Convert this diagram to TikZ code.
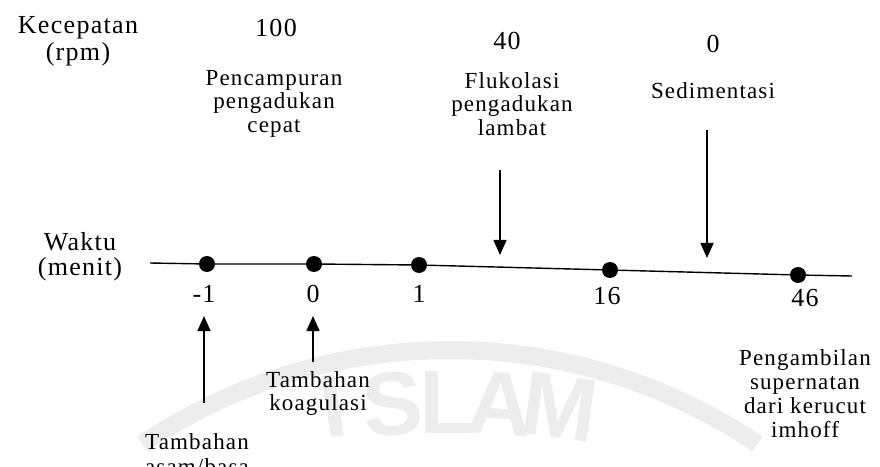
\documentclass[tikz,border=0pt]{standalone}
\usepackage{fontspec}
\setmainfont{Liberation Serif}[LetterSpace=5]
\newfontfamily\wmfont{Liberation Sans}
\usetikzlibrary{arrows.meta}
\begin{document}
\begin{tikzpicture}[x=1pt,y=1pt,
  bigtxt/.style={font=\fontsize{26}{28}\selectfont, inner sep=0pt, anchor=base},
  sidetxt/.style={font=\fontsize{26}{27}\selectfont, inner sep=0pt, align=center, anchor=north},
  smalltxt/.style={font=\fontsize{23}{23.5}\selectfont, inner sep=0pt, align=center, anchor=north},
  tick/.style={circle, fill=black, inner sep=0pt, minimum size=16pt},
  pointer/.style={line width=1.5pt, -{Triangle[width=13pt,length=15pt]}},
  axisline/.style={line width=1.4pt},
  wm/.style={gray!14},
  wmletter/.style={wm, font=\wmfont\bfseries\fontsize{90}{90}\selectfont, inner sep=0pt}]
\useasboundingbox (0,0) rectangle (880,466);
\clip (0,0) rectangle (880,466);

% faint watermark in the background
\draw[wm, line width=18pt] (450,-434) ++(124:550) arc (124:56:550);
\node[wmletter, rotate=9]  (wmI) at (333,60) {I};
\node[wmletter, rotate=5]  (wmS) at (393,62) {S};
\node[wmletter]            (wmL) at (447,63) {L};
\node[wmletter, rotate=-4] (wmA) at (500,62) {A};
\node[wmletter, rotate=-8] (wmM) at (560,59) {M};

% row labels
\node[sidetxt] (kec) at (78,450) {Kecepatan\\(rpm)};
\node[sidetxt, font=\fontsize{26}{25}\selectfont] (wkt) at (80,234) {Waktu\\(menit)};

% stirring speeds
\node[bigtxt] (v100) at (276,429) {100};
\node[bigtxt] (v40)  at (507,416) {40};
\node[bigtxt] (v0)   at (713,413) {0};

% process phases
\node[smalltxt] (mix)  at (274,396) {Pencampuran\\pengadukan\\cepat};
\node[smalltxt] (floc) at (512,394) {Flukolasi\\pengadukan\\lambat};
\node[bigtxt, font=\fontsize{23}{24}\selectfont] (sed) at (713,367) {Sedimentasi};

% time axis
\coordinate (axL) at (150,203);
\coordinate (axR) at (852,190);
\node[tick] (tm1) at (207,202) {};
\node[tick] (t0)  at (314,202) {};
\node[tick] (t1)  at (419,201) {};
\node[tick] (t16) at (610,196) {};
\node[tick] (t46) at (798,191) {};
\draw[axisline] (axL) -- (tm1) -- (t0) -- (t1) -- (t16) -- (t46) -- (axR);

% time values
\node[bigtxt] (lm1) at (204,164) {-1};
\node[bigtxt] (l0)  at (313,164) {0};
\node[bigtxt] (l1)  at (419,164) {1};
\node[bigtxt] (l16) at (607,161) {16};
\node[bigtxt] (l46) at (805,160) {46};

% arrows marking the phase changes
\coordinate (flocTop) at (500,296);
\coordinate (flocTip) at (500,211);
\coordinate (sedTop)  at (707,336);
\coordinate (sedTip)  at (707,208);
\draw[pointer] (flocTop) -- (flocTip);
\draw[pointer] (sedTop) -- (sedTip);

% arrows marking the chemical additions
\coordinate (acidFoot) at (204,63);
\coordinate (acidTip)  at (204,150);
\coordinate (coagFoot) at (313,104);
\coordinate (coagTip)  at (313,150);
\draw[pointer] (acidFoot) -- (acidTip);
\draw[pointer] (coagFoot) -- (coagTip);

% notes below the axis
\node[smalltxt] (koag)  at (318,95)  {Tambahan\\koagulasi};
\node[smalltxt, font=\fontsize{23}{25}\selectfont] (asam)  at (197,33)  {Tambahan\\asam/basa};
\node[smalltxt, font=\fontsize{23}{24}\selectfont] (ambil) at (805,117) {Pengambilan\\supernatan\\dari kerucut\\imhoff};
\end{tikzpicture}
\end{document}
